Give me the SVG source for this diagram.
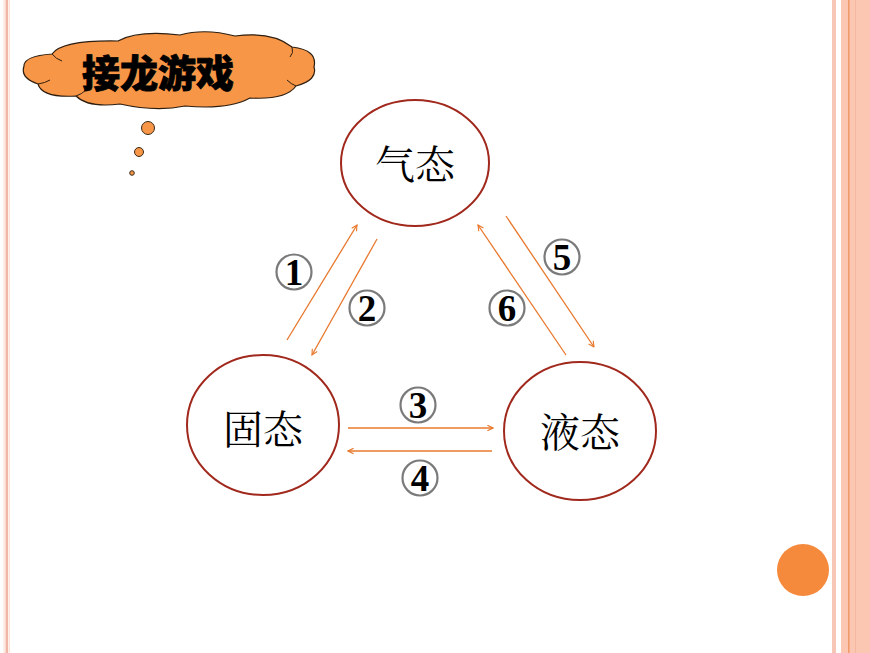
<svg xmlns="http://www.w3.org/2000/svg" width="870" height="653" viewBox="0 0 870 653">
<defs>
<style>
.node{fill:#ffffff;stroke:#A0281C;stroke-width:2}
.lbl{font-family:"Noto Serif CJK SC","Noto Sans CJK SC",serif;font-size:40px;fill:#000;text-anchor:middle}
.arr{stroke:#E8782C;stroke-width:1.3;fill:none;marker-end:url(#ah)}
.num circle{fill:#fff;stroke:#7a7a7a;stroke-width:2.2}
.num text{font-family:"Liberation Serif",serif;font-weight:bold;font-size:37px;fill:#000;text-anchor:middle}
.dot{fill:#F79646;stroke:#3a2a1a;stroke-width:1}
.title{font-family:"Noto Sans CJK SC",sans-serif;font-size:38px;font-weight:900;fill:#000;text-anchor:middle;stroke:#000;stroke-width:0.8}
</style>
<marker id="ah" viewBox="0 0 10 10" refX="9" refY="5" markerWidth="7" markerHeight="7" orient="auto" markerUnits="userSpaceOnUse">
<path d="M1 1 L9 5 L1 9" fill="none" stroke="#E8782C" stroke-width="1.6"/>
</marker>
</defs>
<rect width="870" height="653" fill="#ffffff"/>
<g id="borders">
<rect x="3.5" y="0" width="1.2" height="653" fill="#FCE3D6"/>
<rect x="5.5" y="0" width="2.5" height="653" fill="#F2B6A6"/>
<rect x="8.5" y="0" width="1.5" height="653" fill="#FCE3D6"/>
<rect x="832" y="0" width="4" height="653" fill="#F7C6B6"/>
<rect x="841" y="0" width="29" height="653" fill="#FBC6B2"/>
<rect x="848" y="0" width="1.6" height="653" fill="#F39A6A"/>
<rect x="855" y="0" width="1" height="653" fill="#F4B8A0"/>
</g>
<circle id="orange-dot" cx="803" cy="570" r="26" fill="#F68A3C"/>
<g id="cloud">
<path d="M24 66 Q24 56 52 54 Q62 40 118 41 Q138 30 180 35 Q205 28 235 36 Q272 31 292 47 Q318 50 314 67 Q318 80 296 86 Q286 100 250 98 Q228 110 185 106 Q156 112 120 104 Q88 108 76 96 Q42 98 38 84 Q20 78 24 66 Z" fill="#F79646" stroke="#2e1e10" stroke-width="1.2"/>
<path d="M52 54 Q56 59 62 61 M292 47 Q294 53 290 57 M38 84 Q45 83 50 80 M76 96 Q82 94 86 90 M296 86 Q291 84 287 80" fill="none" stroke="#2e1e10" stroke-width="1"/>
<text class="title" x="158" y="87">接龙游戏</text>
<circle class="dot" cx="148" cy="128" r="6.5"/>
<circle class="dot" cx="139" cy="152" r="4.5"/>
<circle class="dot" cx="132" cy="173" r="2.3"/>
</g>
<g id="connectors">
<line class="arr" x1="287" y1="340" x2="357" y2="225"/>
<line class="arr" x1="377" y1="239" x2="312" y2="355"/>
<line class="arr" x1="566" y1="355" x2="478" y2="225"/>
<line class="arr" x1="506" y1="216" x2="594" y2="347"/>
<line class="arr" x1="348" y1="428" x2="493" y2="428"/>
<line class="arr" x1="492" y1="451" x2="348" y2="451"/>
</g>
<g id="labels">
<g class="num"><circle cx="294" cy="272" r="17.5"/><text x="294" y="285">1</text></g>
<g class="num"><circle cx="367" cy="308" r="17.5"/><text x="367" y="321">2</text></g>
<g class="num"><circle cx="418" cy="405" r="17.5"/><text x="418" y="418">3</text></g>
<g class="num"><circle cx="420" cy="478" r="17.5"/><text x="420" y="491">4</text></g>
<g class="num"><circle cx="562" cy="257" r="17.5"/><text x="562" y="270">5</text></g>
<g class="num"><circle cx="507" cy="308" r="17.5"/><text x="507" y="321">6</text></g>
</g>
<g id="node-gas">
<ellipse class="node" cx="415" cy="163" rx="74" ry="63"/>
<text class="lbl" x="415" y="179">气态</text>
</g>
<g id="node-solid">
<ellipse class="node" cx="263" cy="425" rx="76" ry="70"/>
<text class="lbl" x="263" y="444">固态</text>
</g>
<g id="node-liquid">
<ellipse class="node" cx="580" cy="431" rx="76" ry="69"/>
<text class="lbl" x="580" y="447">液态</text>
</g>
</svg>
